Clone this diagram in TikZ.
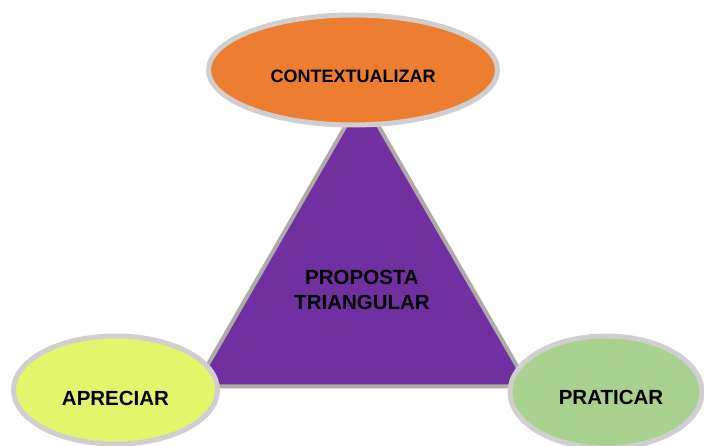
\documentclass[tikz,border=0pt]{standalone}
\usepackage{fontspec}
\setmainfont{Liberation Sans}
\usetikzlibrary{shapes.geometric}
\definecolor{laranja}{HTML}{ED7D31}
\definecolor{roxo}{HTML}{7030A0}
\definecolor{amarelo}{HTML}{E3F56B}
\definecolor{verde}{HTML}{A9D18E}
\definecolor{bordaclara}{HTML}{D0CECE}
\definecolor{bordaescura}{HTML}{AEAAAA}
\begin{document}
\begin{tikzpicture}[x=1pt,y=-1pt,
        etapa/.style={ellipse,draw=bordaclara,line width=5pt,inner sep=0pt,
            text depth=0pt,font=\bfseries\fontsize{20.5}{25}\selectfont},
        nucleo/.style={regular polygon,regular polygon sides=3,draw=bordaescura,
            line width=4pt,fill=roxo,inner sep=0pt,minimum size=385pt,
            align=center,font=\bfseries\fontsize{20.5}{25}\selectfont}]
                \useasboundingbox (0,0) rectangle (704,446);
                \node[nucleo] (proposta) at (362,290) {PROPOSTA\\TRIANGULAR};
                \node[etapa,fill=laranja,minimum width=289pt,minimum height=110pt,
                    text height=26pt,font=\bfseries\fontsize{18}{22}\selectfont]
                    (contextualizar) at (353,70) {CONTEXTUALIZAR};
                \node[etapa,fill=amarelo,minimum width=204pt,minimum height=108pt,
                    text height=30.7pt]
                    (apreciar) at (115.5,390) {APRECIAR};
                \node[etapa,fill=verde,minimum width=192pt,minimum height=112pt,
                    text height=24.7pt]
                    (praticar) at (606,392) {\hspace*{10pt}PRATICAR};
            \end{tikzpicture}
\end{document}
